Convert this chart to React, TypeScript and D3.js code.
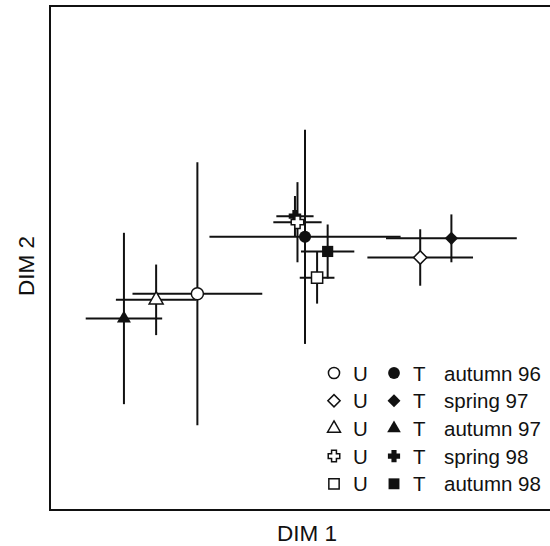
// Ordination plot: untreated (U) vs treated (T) plots per sampling season
// D3.js scatter with horizontal/vertical error bars and a symbol legend

import React, { useRef, useEffect } from 'react';
import * as d3 from 'd3';

const SEASONS = ['autumn 96', 'spring 97', 'autumn 97', 'spring 98', 'autumn 98'];

// untreated (open symbols)
const U_X = [29.3, 73.6, 21.1, 49.2, 53.1];
const U_Y = [42.9, 50.1, 41.7, 57.1, 46.1];
const U_X_ERR = [12.9, 10.5, 8.0, 4.8, 3.45];
const U_Y_ERR = [26.1, 5.6, 7.0, 7.95, 5.15];

// treated (filled symbols)
const T_X = [50.7, 79.8, 14.7, 48.7, 55.2];
const T_Y = [54.2, 53.9, 38.0, 58.3, 51.3];
const T_X_ERR = [19.0, 13.0, 7.6, 3.7, 5.3];
const T_Y_ERR = [21.25, 4.75, 17.0, 4.0, 5.35];

// chunky greek cross, arms wider than d3.symbolCross
const thickCross = {
  draw(ctx: any, size: number) {
    const r = Math.sqrt(size) / 1.6;
    const w = r * 0.42;
    ctx.moveTo(-w, -r);
    ctx.lineTo(w, -r);
    ctx.lineTo(w, -w);
    ctx.lineTo(r, -w);
    ctx.lineTo(r, w);
    ctx.lineTo(w, w);
    ctx.lineTo(w, r);
    ctx.lineTo(-w, r);
    ctx.lineTo(-w, w);
    ctx.lineTo(-r, w);
    ctx.lineTo(-r, -w);
    ctx.lineTo(-w, -w);
    ctx.closePath();
  },
};

const SYMBOLS: any[] = [d3.symbolCircle, d3.symbolSquare, d3.symbolTriangle, thickCross, d3.symbolSquare];
const SYMBOL_SIZES = [115, 88, 85, 100, 125];
const SYMBOL_ROTATE = [0, 45, 0, 0, 0];

const FONT = 'Liberation Sans, Arial, Helvetica, sans-serif';

export default function App() {
  const svgRef = useRef<SVGSVGElement>(null);

  useEffect(() => {
    if (!svgRef.current) return;
    const svg = d3.select(svgRef.current);
    svg.selectAll('*').remove();

    const W = 550;
    const H = 546;
    const plot = { left: 50, top: 6, right: 553, bottom: 510 };

    const x = d3.scaleLinear().domain([0, 100]).range([plot.left, plot.right]);
    const y = d3.scaleLinear().domain([0, 100]).range([plot.bottom, plot.top]);

    svg.attr('width', W).attr('height', H);

    // frame
    svg.append('rect')
      .attr('x', plot.left)
      .attr('y', plot.top)
      .attr('width', plot.right - plot.left)
      .attr('height', plot.bottom - plot.top)
      .attr('fill', 'none')
      .attr('stroke', '#111')
      .attr('stroke-width', 2);

    const data = [
      ...SEASONS.map((s, i) => ({ season: i, treated: false, x: U_X[i], y: U_Y[i], ex: U_X_ERR[i], ey: U_Y_ERR[i] })),
      ...SEASONS.map((s, i) => ({ season: i, treated: true, x: T_X[i], y: T_Y[i], ex: T_X_ERR[i], ey: T_Y_ERR[i] })),
    ];

    const bars = svg.append('g').attr('stroke', '#111').attr('stroke-width', 2);

    bars.selectAll('.hbar')
      .data(data)
      .join('line')
      .attr('x1', d => x(d.x - d.ex))
      .attr('x2', d => x(d.x + d.ex))
      .attr('y1', d => y(d.y))
      .attr('y2', d => y(d.y));

    bars.selectAll('.vbar')
      .data(data)
      .join('line')
      .attr('x1', d => x(d.x))
      .attr('x2', d => x(d.x))
      .attr('y1', d => y(d.y - d.ey))
      .attr('y2', d => y(d.y + d.ey));

    const symbolPath = (i: number, scale = 1) =>
      d3.symbol().type(SYMBOLS[i]).size(SYMBOL_SIZES[i] * scale)();

    // treated first, untreated open symbols on top
    const markers = [...data.filter(d => d.treated), ...data.filter(d => !d.treated)];

    svg.append('g')
      .selectAll('path')
      .data(markers)
      .join('path')
      .attr('d', d => symbolPath(d.season))
      .attr('transform', d => `translate(${x(d.x)},${y(d.y)}) rotate(${SYMBOL_ROTATE[d.season]})`)
      .attr('fill', d => (d.treated ? '#111' : '#fff'))
      .attr('stroke', '#111')
      .attr('stroke-width', d => (d.treated ? 0 : 1.5));

    // legend
    const legend = svg.append('g').attr('transform', 'translate(0, 373)');
    const rowH = 27.7;

    SEASONS.forEach((season, i) => {
      const row = legend.append('g').attr('transform', `translate(0, ${i * rowH})`);

      row.append('path')
        .attr('d', symbolPath(i, 0.85))
        .attr('transform', `translate(334, 0) rotate(${SYMBOL_ROTATE[i]})`)
        .attr('fill', '#fff')
        .attr('stroke', '#111')
        .attr('stroke-width', 1.5);

      row.append('path')
        .attr('d', symbolPath(i, 0.95))
        .attr('transform', `translate(394, 0) rotate(${SYMBOL_ROTATE[i]})`)
        .attr('fill', '#111');

      const label = (tx: number, t: string) =>
        row.append('text')
          .attr('x', tx)
          .attr('y', 7.5)
          .attr('fill', '#111')
          .style('font-family', FONT)
          .style('font-size', '20.5px')
          .text(t);

      label(353, 'U');
      label(413, 'T');
      label(444, season);
    });

    // axis titles
    svg.append('text')
      .attr('x', 307)
      .attr('y', 541)
      .attr('text-anchor', 'middle')
      .attr('fill', '#111')
      .style('font-family', FONT)
      .style('font-size', '22.5px')
      .text('DIM 1');

    svg.append('text')
      .attr('transform', 'translate(34, 266) rotate(-90)')
      .attr('text-anchor', 'middle')
      .attr('fill', '#111')
      .style('font-family', FONT)
      .style('font-size', '22.5px')
      .text('DIM 2');
  }, []);

  return (
    <svg
      ref={svgRef}
      style={{ position: 'absolute', left: 0, top: 0, display: 'block', background: '#fff' }}
    />
  );
}
